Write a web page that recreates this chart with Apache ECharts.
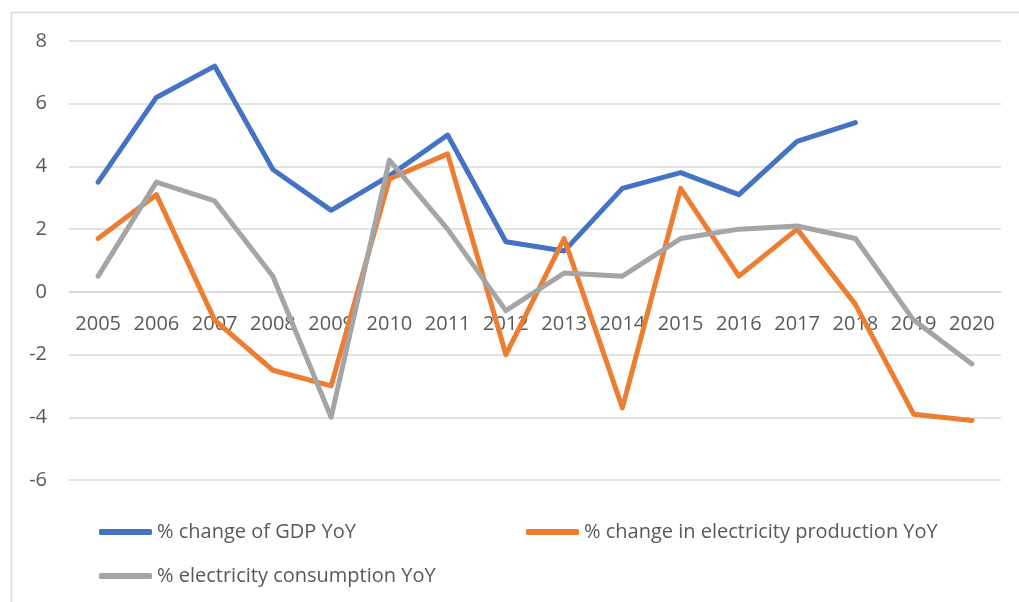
<!DOCTYPE html>
<html>
<head>
<meta charset="utf-8">
<script src="https://cdn.jsdelivr.net/npm/echarts@6/dist/echarts.min.js"></script>
<style>html,body{margin:0;padding:0;background:#fff}#c{width:1019px;height:602px}</style>
</head>
<body>
<div id="c"></div>
<script>
var years = ['2005','2006','2007','2008','2009','2010','2011','2012','2013','2014','2015','2016','2017','2018','2019','2020'];
var gdp = [3.5, 6.2, 7.2, 3.9, 2.6, 3.7, 5.0, 1.6, 1.3, 3.3, 3.8, 3.1, 4.8, 5.4, null, null];
var production = [1.7, 3.1, -0.9, -2.5, -3.0, 3.6, 4.4, -2.0, 1.7, -3.7, 3.3, 0.5, 2.0, -0.4, -3.9, -4.1];
var consumption = [0.5, 3.5, 2.9, 0.5, -4.0, 4.2, 2.0, -0.6, 0.6, 0.5, 1.7, 2.0, 2.1, 1.7, -0.9, -2.3];
var names = ['% change of GDP YoY', '% change in electricity production YoY', '% electricity consumption YoY'];
var colors = ['#4472C4', '#ED7D31', '#A5A5A5'];

var chart = echarts.init(document.getElementById('c'));
var font = '"Open Sans", sans-serif';
function mk(name, data, color) {
  return {
    name: name, type: 'line', data: data, symbol: 'none', connectNulls: false,
    lineStyle: { width: 5, color: color, cap: 'round', join: 'round' },
    itemStyle: { color: color }
  };
}
var legendBase = {
  icon: 'roundRect', itemWidth: 53, itemHeight: 6, itemGap: 0,
  textStyle: { fontFamily: font, fontSize: 20, color: '#595959' }
};
chart.setOption({
  animation: false,
  color: colors,
  graphic: [{
    type: 'rect', silent: true,
    shape: { x: 11.5, y: 12.5, width: 1200, height: 800 },
    style: { fill: 'none', stroke: '#d9d9d9', lineWidth: 1.5 }
  }],
  grid: { left: 69, right: 18, top: 41, bottom: 122, containLabel: false },
  legend: [
    Object.assign({ data: [names[0]], left: 94, top: 517 }, legendBase),
    Object.assign({ data: [names[1]], left: 521, top: 517 }, legendBase),
    Object.assign({ data: [names[2]], left: 94, top: 561 }, legendBase)
  ],
  xAxis: {
    type: 'category', data: years, boundaryGap: true, position: 'bottom', offset: -188,
    axisLine: { onZero: false, lineStyle: { color: '#d9d9d9', width: 1.5 } },
    axisTick: { show: false },
    axisLabel: { fontFamily: font, fontSize: 20, color: '#595959', margin: 22, interval: 0 }
  },
  yAxis: {
    type: 'value', min: -6, max: 8, interval: 2,
    axisLine: { show: false }, axisTick: { show: false },
    splitLine: { lineStyle: { color: '#d9d9d9', width: 1.5 } },
    axisLabel: { fontFamily: font, fontSize: 20, color: '#595959', margin: 22 }
  },
  series: [mk(names[0], gdp, colors[0]), mk(names[1], production, colors[1]), mk(names[2], consumption, colors[2])]
});
</script>
</body>
</html>
